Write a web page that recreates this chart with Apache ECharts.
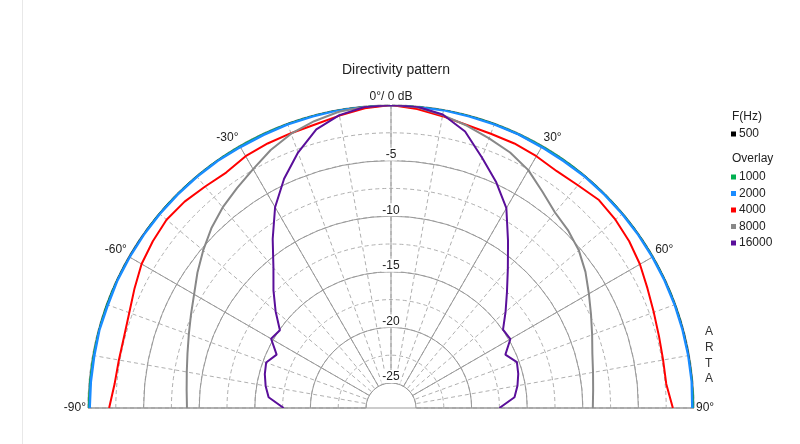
<!DOCTYPE html>
<html><head><meta charset="utf-8">
<script src="https://cdn.jsdelivr.net/npm/echarts@6/dist/echarts.min.js"></script>
<style>html,body{margin:0;padding:0;background:#fff}#c{width:800px;height:444px}</style>
</head><body><div id="c"></div>
<script>
const angles = [-90,-85,-80,-75,-70,-65,-60,-55,-50,-45,-40,-35,-30,-25,-20,-15,-10,-5,0,5,10,15,20,25,30,35,40,45,50,55,60,65,70,75,80,85,90];
const f500   = [-0.1,-0.1,-0.1,-0.05,-0.05,0,0,0,0,0,-0.05,-0.05,-0.1,-0.1,-0.05,-0.05,0,0,0,0,0,-0.05,-0.05,-0.1,-0.1,-0.1,-0.05,-0.05,-0.05,0,0,0,0,0,-0.05,-0.05,-0.1];
const f1000  = [-0.05,-0.05,-0.05,0,0,0.05,0.1,0.1,0.05,0,0,0,0,0,0.05,0,0,0.05,0.05,0.05,0,0,0.05,0.05,0,0,0,0,0,0,0,0.05,0.05,0.1,0.1,0.05,-0.05];
const f2000  = [-0.15,-0.15,-0.15,-0.1,-0.15,-0.1,-0.1,-0.1,-0.1,-0.1,-0.1,-0.1,-0.15,-0.15,-0.1,-0.1,-0.05,-0.05,0,-0.05,-0.05,-0.1,-0.1,-0.1,-0.15,-0.15,-0.1,-0.1,-0.1,-0.1,-0.1,-0.1,-0.1,-0.1,-0.1,-0.1,-0.15];
const f4000  = [-1.9,-2.3,-2.4,-2.4,-2.2,-1.8,-1.35,-1.1,-0.9,-1.0,-1.25,-1.4,-1.1,-1.0,-0.95,-0.85,-0.55,-0.2,0,-0.25,-0.6,-0.9,-1.0,-1.0,-1.1,-1.25,-1.1,-0.8,-0.9,-1.1,-1.4,-1.8,-2.1,-2.3,-2.4,-2.4,-1.9];
const f8000  = [-8.9,-8.8,-8.6,-8.3,-7.9,-7.4,-6.8,-6.0,-5.2,-4.4,-3.7,-3.1,-2.45,-1.65,-1.0,-0.55,-0.2,-0.05,0,-0.1,-0.5,-0.95,-1.45,-1.9,-2.55,-3.5,-4.3,-4.7,-5.2,-5.9,-6.7,-7.4,-8.0,-8.5,-8.8,-9.0,-9.1];
const f16000 = [-17.6,-16.2,-15.8,-15.5,-15.3,-15.9,-14.8,-15.05,-13.7,-12.3,-10.8,-8.7,-6.4,-4.5,-2.8,-1.3,-0.5,-0.08,0,-0.05,-0.45,-1.5,-3.3,-4.85,-6.5,-8.9,-10.9,-12.5,-13.8,-14.95,-14.85,-15.9,-15.2,-15.4,-15.7,-16.1,-17.5];
const seriesNames = ['500','1000','2000','4000','8000','16000'];
const seriesVals = [f500,f1000,f2000,f4000,f8000,f16000];
const seriesColors = ['#000000','#00b050','#1a8cff','#ff0000','#888888','#5a0f9a'];
const angleTicks = [-90,-60,-30,0,30,60,90];
const dbTicks = [-25,-20,-15,-10,-5,0];

const FONT = '"Liberation Sans", Arial, sans-serif';
const C = [391,408];
const R = [25,303];
const chart = echarts.init(document.getElementById('c'), null, {renderer:'canvas'});
const hidden = {axisLine:{show:false},axisTick:{show:false},axisLabel:{show:false},splitLine:{show:false}};
const option = {
  backgroundColor:'#fff',
  animation:false,
  graphic:[{type:'line',shape:{x1:22.5,y1:0,x2:22.5,y2:444},style:{stroke:'#e8e8e8',lineWidth:1},silent:true}],
  title:[
    {text:'Directivity pattern',left:391,top:58,textAlign:'center',textStyle:{fontFamily:FONT,fontSize:14,fontWeight:'normal',color:'#222'}},
    {text:'F(Hz)',left:727,top:106,textStyle:{fontFamily:FONT,fontSize:12,fontWeight:'normal',color:'#222'}},
    {text:'Overlay',left:727,top:148,textStyle:{fontFamily:FONT,fontSize:12,fontWeight:'normal',color:'#222'}},
    {text:'A\nR\nT\nA',left:700,top:319,textStyle:{fontFamily:FONT,fontSize:12,fontWeight:'normal',color:'#333',lineHeight:15.7}}
  ],
  legend:[
    {data:['500'],orient:'vertical',left:726,top:123,itemWidth:5,itemHeight:5,icon:'rect',itemGap:4,
     textStyle:{fontFamily:FONT,fontSize:12,color:'#222',padding:[0,0,0,-2]}},
    {data:['1000','2000','4000','8000','16000'],orient:'vertical',left:726,top:166,itemWidth:5,itemHeight:5,icon:'rect',itemGap:4.5,
     textStyle:{fontFamily:FONT,fontSize:12,color:'#222',padding:[0,0,0,-2]}}
  ],
  polar:[{center:C,radius:R},{center:C,radius:R},{center:C,radius:R},{center:C,radius:[0,R[1]]}],
  angleAxis:[
    {polarIndex:0,type:'value',min:-90,max:90,startAngle:180,endAngle:0,clockwise:true,interval:10,
     axisLine:{show:false},axisTick:{show:false},axisLabel:{show:false},
     splitLine:{show:true,lineStyle:{color:'#b0b0b0',width:1,type:[4,3]}}},
    {polarIndex:1,type:'value',min:angleTicks[0],max:90,startAngle:180,endAngle:0,clockwise:true,interval:30,
     axisLine:{show:false},axisTick:{show:false},
     axisLabel:{show:true,margin:2,fontFamily:FONT,fontSize:12,color:'#222',
       formatter:v=> (v===0?'0°/ 0 dB':v+'°')},
     splitLine:{show:true,lineStyle:{color:'#999',width:1}}},
    Object.assign({polarIndex:2,type:'value',min:0,max:360,startAngle:90},hidden),
    {polarIndex:3,type:'value',min:-90,max:90,startAngle:180,endAngle:0,clockwise:true,interval:180,
     axisLine:{show:false},axisTick:{show:false},axisLabel:{show:false},
     splitLine:{show:true,lineStyle:{color:'#999',width:1}}}
  ],
  radiusAxis:[
    {polarIndex:0,type:'value',min:dbTicks[0],max:0,interval:2.5,
     axisLine:{show:false},axisTick:{show:false},axisLabel:{show:false},
     splitLine:{show:true,lineStyle:{color:'#b0b0b0',width:1,type:[4,3]}}},
    {polarIndex:1,type:'value',min:dbTicks[0],max:0,interval:5,
     axisLine:{show:false},axisTick:{show:false},axisLabel:{show:false},
     splitLine:{show:true,lineStyle:{color:'#999',width:1}}},
    {polarIndex:2,type:'value',min:dbTicks[0],max:0,interval:5,z:20,
     axisLine:{show:false},axisTick:{show:false},splitLine:{show:false},
     axisLabel:{show:true,margin:0,align:'center',verticalAlign:'bottom',fontFamily:FONT,fontSize:12,color:'#222',
       backgroundColor:'#fff',padding:[1,1,0,1],
       formatter:v=>(v===0?'':String(v))}},
    Object.assign({polarIndex:3,type:'value',min:0,max:1},hidden)
  ],
  series: seriesNames.map((n,i)=>({
    name:n,type:'line',coordinateSystem:'polar',polarIndex:1,symbol:'none',
    z:2+i,
    lineStyle:{color:seriesColors[i],width:(n==='2000'?2.5:2)},
    itemStyle:{color:seriesColors[i]},
    data: angles.map((a,k)=>[seriesVals[i][k],a])
  }))
};
chart.setOption(option);
</script></body></html>
